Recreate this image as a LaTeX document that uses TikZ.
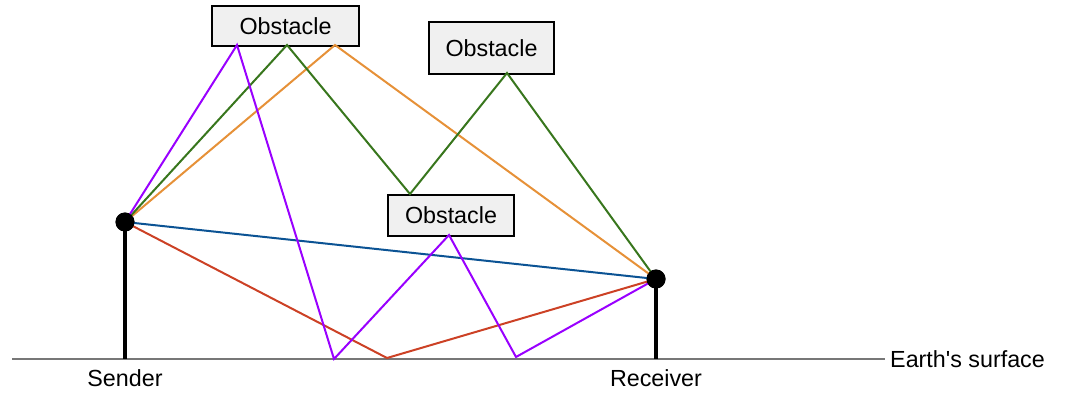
\documentclass[tikz,border=0pt]{standalone}
\usepackage{fontspec}
\setmainfont{Liberation Sans}[Ligatures=TeXOff]
\begin{document}
\begin{tikzpicture}[x=1pt,y=-1pt,
  every node/.style={font=\fontsize{23.3}{27}\selectfont},
  obst/.style={draw=black,line width=2pt,fill=black!6,minimum height=0pt,inner sep=0pt,anchor=north west},
  ray/.style={line width=2pt,line join=miter},
  pole/.style={line width=3.8pt},
  dot/.style={circle,fill=black,minimum size=19pt,inner sep=0pt},
  lbl/.style={inner sep=0pt}]
\definecolor{cpurple}{HTML}{9900FF}
\definecolor{cgreen}{HTML}{38761D}
\definecolor{corange}{HTML}{E69138}
\definecolor{cblue}{HTML}{0B5394}
\definecolor{cred}{HTML}{CC4125}
\definecolor{cgray}{HTML}{777777}
\useasboundingbox (0,0) rectangle (1068,401);
% ground
\coordinate (gl) at (12,359);
\coordinate (gr) at (885,359);
\draw[cgray,line width=1.5pt] (gl) -- (gr);
\node[lbl,anchor=west] (earth) at (890,359) {Earth's surface};
% obstacles
\node[obst,minimum width=147pt,minimum height=40pt] (o1) at (211,5) {Obstacle};
\node[obst,minimum width=125pt,minimum height=52pt] (o2) at (428,21) {Obstacle};
\node[obst,minimum width=126pt,minimum height=41pt] (o3) at (387,194) {Obstacle};
% contact points
\coordinate (p1) at (237,45);
\coordinate (g1) at (287,45);
\coordinate (r1) at (335,45);
\coordinate (g3) at (410,194);
\coordinate (p3) at (449,235);
\coordinate (g2) at (507,73);
\coordinate (ga) at (334,359);
\coordinate (gb) at (387,358);
\coordinate (gc) at (516,357);
% sender / receiver
\coordinate (sb) at (125,359);
\coordinate (rb) at (656,359);
\node[dot] (s) at (125,222) {};
\node[dot] (r) at (656,279) {};
\draw[pole] (s.center) -- (sb);
\draw[pole] (r.center) -- (rb);
\node[lbl] (slab) at (125,378) {Sender};
\node[lbl] (rlab) at (656,378) {Receiver};
% rays
\draw[ray,cblue] (s.center) -- (r.center);
\draw[ray,cred] (s.center) -- (gb) -- (r.center);
\draw[ray,corange] (s.center) -- (r1) -- (r.center);
\draw[ray,cgreen] (s.center) -- (g1) -- (g3) -- (g2) -- (r.center);
\draw[ray,cpurple] (s.center) -- (p1) -- (ga) -- (p3) -- (gc) -- (r.center);
\node[dot] at (s) {};
\node[dot] at (r) {};
\end{tikzpicture}
\end{document}
